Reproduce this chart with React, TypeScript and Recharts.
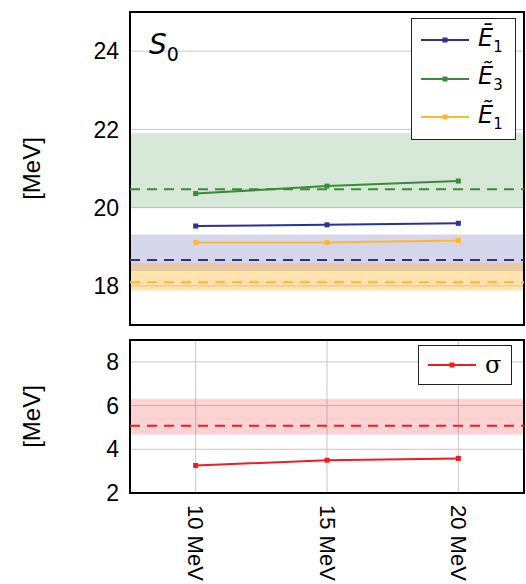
import {
  ComposedChart,
  Line,
  XAxis,
  YAxis,
  CartesianGrid,
  ReferenceArea,
  ReferenceLine,
  Legend,
} from "recharts";

// beam energies (MeV)
const energies = [10, 15, 20];
const energyTicks = [10, 15, 20];

// fitted values per energy
const e1BarValues = [19.53, 19.56, 19.6];
const e3TildeValues = [20.36, 20.55, 20.68];
const e1TildeValues = [19.11, 19.11, 19.16];
const sigmaValues = [3.26, 3.5, 3.58];

// reference values (dashed) and their bands: E3 tilde, E1 bar, E1 tilde
const refKeys = ["e3Tilde", "e1Bar", "e1Tilde"];
const refValues = [20.47, 18.66, 18.09];
const refLow = [20.0, 18.38, 17.88];
const refHigh = [21.9, 19.31, 18.58];
const refOpacity = [0.2, 0.2, 0.4];

const sigmaRef = [5.08];
const sigmaLow = [4.68];
const sigmaHigh = [6.31];

const topTicks = [18, 20, 22, 24];
const bottomTicks = [2, 4, 6, 8];

const legendOrder = ["e1Bar", "e3Tilde", "e1Tilde", "sigma"];

const colors: Record<string, string> = {
  e1Bar: "#2d3192",
  e3Tilde: "#3b8a3a",
  e1Tilde: "#ffb733",
  sigma: "#ee1c25",
};

const FONT = "'Liberation Sans', Arial, sans-serif";

const topData = energies.map((e, i) => ({
  energy: e,
  e1Bar: e1BarValues[i],
  e3Tilde: e3TildeValues[i],
  e1Tilde: e1TildeValues[i],
}));
const bottomData = energies.map((e, i) => ({ energy: e, sigma: sigmaValues[i] }));

const squareDot = (color: string) => (props: any) => {
  const { cx, cy, index } = props;
  return <rect key={index} x={cx - 2.5} y={cy - 2.5} width={5} height={5} fill={color} />;
};

const yLabel = ({ viewBox }: any) => {
  const cy = viewBox.y + viewBox.height / 2;
  return (
    <text
      x={31}
      y={cy}
      transform={`rotate(-90, 31, ${cy})`}
      textAnchor="middle"
      dominantBaseline="central"
      fontSize={24}
      fontFamily={FONT}
      fill="#000"
    >
      [MeV]
    </text>
  );
};

const RotatedTick = ({ x, y, payload }: any) => (
  <text
    x={x}
    y={y}
    transform={`rotate(90, ${x}, ${y})`}
    textAnchor="start"
    dominantBaseline="central"
    fontSize={22}
    fontFamily={FONT}
    fill="#000"
  >
    {`${payload.value} MeV`}
  </text>
);

const legendLabels: Record<string, JSX.Element> = {
  e1Bar: (
    <span>
      <i>Ē</i>
      <sub style={{ fontSize: 15 }}>1</sub>
    </span>
  ),
  e3Tilde: (
    <span>
      <i>Ẽ</i>
      <sub style={{ fontSize: 15 }}>3</sub>
    </span>
  ),
  e1Tilde: (
    <span>
      <i>Ẽ</i>
      <sub style={{ fontSize: 15 }}>1</sub>
    </span>
  ),
  sigma: <span style={{ fontFamily: "'DejaVu Serif', serif" }}>σ</span>,
};

const LegendBox = ({ payload, rowHeight }: any) => {
  const items = [...(payload || [])].sort(
    (a: any, b: any) => legendOrder.indexOf(a.dataKey) - legendOrder.indexOf(b.dataKey)
  );
  return (
    <div
      style={{
        border: "1px solid #222",
        background: "#fff",
        padding: "2px 0",
        fontFamily: "'DejaVu Sans', sans-serif",
        fontSize: 24,
      }}
    >
      {items.map((p: any) => (
        <div
          key={p.dataKey}
          style={{ height: rowHeight, display: "flex", alignItems: "center", lineHeight: 1 }}
        >
          <svg width={57} height={10} style={{ marginLeft: 9 }}>
            <line x1={0} y1={5} x2={48} y2={5} stroke={p.color} strokeWidth={2} />
            <rect x={21.5} y={2.5} width={5} height={5} fill={p.color} />
          </svg>
          {legendLabels[p.dataKey]}
        </div>
      ))}
    </div>
  );
};

const commonX = {
  type: "number" as const,
  dataKey: "energy",
  domain: [7.5, 22.5],
  ticks: energyTicks,
  allowDataOverflow: true,
};

const tickStyle = { fontSize: 23, fontFamily: FONT, fill: "#000" };

export default function App() {
  return (
    <div style={{ position: "absolute", left: 0, top: 0, width: 526, height: 584, background: "#fff" }}>
      <div style={{ position: "absolute", left: 0, top: 0 }}>
        <ComposedChart width={526} height={330} data={topData} margin={{ top: 12, right: 2, bottom: 5, left: 0 }}>
          <CartesianGrid stroke="#c8c8c8" />
          <XAxis {...commonX} tick={false} tickLine={false} axisLine={false} height={0} />
          <YAxis
            type="number"
            domain={[17, 25]}
            ticks={topTicks}
            width={130}
            tickLine={false}
            axisLine={false}
            tickSize={6}
            tickMargin={5}
            tick={tickStyle}
            label={yLabel}
          />
          {refKeys.map((k, i) => (
            <ReferenceArea
              key={`band-${k}`}
              x1={7.5}
              x2={22.5}
              y1={refLow[i]}
              y2={refHigh[i]}
              fill={colors[k]}
              fillOpacity={refOpacity[i]}
              stroke="none"
            />
          ))}
          {refKeys.map((k, i) => (
            <ReferenceLine key={`ref-${k}`} y={refValues[i]} stroke={colors[k]} strokeWidth={2} strokeDasharray="10 7" />
          ))}
          <Line dataKey="e1Bar" name="e1Bar" stroke={colors.e1Bar} strokeWidth={2} dot={squareDot(colors.e1Bar)} isAnimationActive={false} />
          <Line dataKey="e3Tilde" name="e3Tilde" stroke={colors.e3Tilde} strokeWidth={2} dot={squareDot(colors.e3Tilde)} isAnimationActive={false} />
          <Line dataKey="e1Tilde" name="e1Tilde" stroke={colors.e1Tilde} strokeWidth={2} dot={squareDot(colors.e1Tilde)} isAnimationActive={false} />
          <ReferenceArea x1={7.5} x2={22.5} y1={17} y2={25} fill="none" stroke="#000" strokeWidth={2} />
          <Legend
            layout="vertical"
            align="center"
            verticalAlign="middle"
            wrapperStyle={{ left: 411, top: 18, width: 105 }}
            content={(props: any) => <LegendBox payload={props.payload} rowHeight={38.5} />}
          />
        </ComposedChart>
        <div
          style={{
            position: "absolute",
            left: 149,
            top: 28,
            fontFamily: "'DejaVu Sans', sans-serif",
            fontSize: 28,
            color: "#000",
          }}
        >
          <i>S</i>
          <sub style={{ fontSize: 19 }}>0</sub>
        </div>
      </div>
      <div style={{ position: "absolute", left: 0, top: 330 }}>
        <ComposedChart width={526} height={254} data={bottomData} margin={{ top: 10, right: 2, bottom: 0, left: 0 }}>
          <CartesianGrid stroke="#c8c8c8" />
          <XAxis {...commonX} height={91} tickLine={false} axisLine={false} tickSize={6} tickMargin={6} tick={<RotatedTick />} />
          <YAxis
            type="number"
            domain={[2, 9]}
            ticks={bottomTicks}
            width={130}
            tickLine={false}
            axisLine={false}
            tickSize={6}
            tickMargin={5}
            tick={tickStyle}
            label={yLabel}
          />
          <ReferenceArea x1={7.5} x2={22.5} y1={sigmaLow[0]} y2={sigmaHigh[0]} fill={colors.sigma} fillOpacity={0.2} stroke="none" />
          <ReferenceLine y={sigmaRef[0]} stroke={colors.sigma} strokeWidth={2} strokeDasharray="10 7" />
          <Line dataKey="sigma" name="sigma" stroke={colors.sigma} strokeWidth={2} dot={squareDot(colors.sigma)} isAnimationActive={false} />
          <ReferenceArea x1={7.5} x2={22.5} y1={2} y2={9} fill="none" stroke="#000" strokeWidth={2} />
          <Legend
            layout="vertical"
            align="center"
            verticalAlign="middle"
            wrapperStyle={{ left: 418, top: 15, width: 94 }}
            content={(props: any) => <LegendBox payload={props.payload} rowHeight={34} />}
          />
        </ComposedChart>
      </div>
    </div>
  );
}
